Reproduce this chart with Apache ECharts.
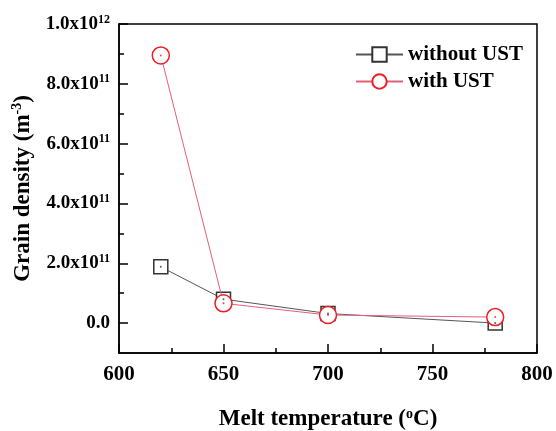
<!DOCTYPE html>
<html>
<head>
<meta charset="utf-8">
<script src="https://cdn.jsdelivr.net/npm/echarts@6/dist/echarts.min.js"></script>
<style>
  html, body { margin: 0; padding: 0; background: #fff; }
  #chart { width: 556px; height: 431px; }
</style>
</head>
<body>
<div id="chart"></div>
<script>
// melt temperature (C) and grain density (m^-3)
const temps = [620, 650, 700, 780];
const withoutUST = [1.88e11, 8.0e10, 3.2e10, 0];
const withUST = [8.95e11, 6.6e10, 2.7e10, 2.0e10];
const yMajor = [0, 2e11, 4e11, 6e11, 8e11, 1e12];
const yMinor = [1e11, 3e11, 5e11, 7e11, 9e11];

const FONT = "Liberation Serif";

function sciLabel(v) {
  if (v === 0) return "{a|0.0}";
  const exp = Math.floor(Math.log10(v) + 1e-9);
  const mant = (v / Math.pow(10, exp)).toFixed(1);
  return `{a|${mant}x10}{s|${exp}}`;
}

const rich = {
  a: { fontFamily: FONT, fontWeight: "bold", fontSize: 19, color: "#000" },
  s: { fontFamily: FONT, fontWeight: "bold", fontSize: 12, color: "#000", padding: [0, 0, 9, 0] },
};

const pairs = (ys) => temps.map((t, i) => [t, ys[i]]);

const chart = echarts.init(document.getElementById("chart"));
chart.setOption({
  animation: false,
  grid: {
    left: 119, top: 24, right: 19, bottom: 78,
    outerBoundsMode: "none",
    show: true, borderColor: "#000", borderWidth: 1.5,
  },
  legend: {
    orient: "vertical",
    left: 350, top: 39,
    itemWidth: 47, itemHeight: 18, itemGap: 6,
    textStyle: { fontFamily: FONT, fontWeight: "bold", fontSize: 21, color: "#000" },
    data: ["without UST", "with UST"],
  },
  xAxis: {
    type: "value",
    min: 600, max: 800, interval: 50,
    name: "{a|Melt temperature (}{s|o}{a|C)}",
    nameLocation: "middle", nameGap: 54,
    nameTextStyle: {
      rich: {
        a: { fontFamily: FONT, fontWeight: "bold", fontSize: 23, color: "#000" },
        s: { fontFamily: FONT, fontWeight: "bold", fontSize: 14, color: "#000", padding: [0, 0, 11, 0] },
      },
    },
    axisLine: { onZero: false, lineStyle: { color: "#000", width: 1.5 } },
    axisTick: { inside: true, length: 9, lineStyle: { color: "#000", width: 1.5 } },
    minorTick: { show: true, splitNumber: 2, length: 5, lineStyle: { color: "#000", width: 1.5 } },
    axisLabel: { fontFamily: FONT, fontWeight: "bold", fontSize: 21, color: "#000", margin: 11 },
    splitLine: { show: false },
  },
  yAxis: [
    {
      type: "value",
      min: -1e11, max: 1e12,
      name: "{a|Grain density (m}{s|-3}{a|)}",
      nameLocation: "middle", nameGap: 76, nameRotate: 90,
      nameTextStyle: {
        rich: {
          a: { fontFamily: FONT, fontWeight: "bold", fontSize: 23, color: "#000" },
          s: { fontFamily: FONT, fontWeight: "bold", fontSize: 14, color: "#000", padding: [0, 0, 11, 0] },
        },
      },
      axisLine: { show: true, lineStyle: { color: "#000", width: 1.5 } },
      axisTick: { show: true, inside: true, length: 9, customValues: yMajor, lineStyle: { color: "#000", width: 1.5 } },
      axisLabel: { customValues: yMajor, formatter: sciLabel, rich: rich, margin: 9 },
      splitLine: { show: false },
    },
    {
      type: "value",
      position: "left",
      min: -1e11, max: 1e12,
      axisLine: { show: false },
      axisTick: { show: true, inside: true, length: 5, customValues: yMinor, lineStyle: { color: "#000", width: 1.5 } },
      axisLabel: { show: false },
      splitLine: { show: false },
    },
  ],
  series: [
    {
      name: "without UST",
      type: "line",
      data: pairs(withoutUST),
      symbol: "rect",
      symbolSize: 14,
      lineStyle: { color: "#555", width: 1 },
      itemStyle: { color: "#fff", borderColor: "#333", borderWidth: 1.5 },
      z: 2,
    },
    {
      name: "with UST",
      type: "line",
      data: pairs(withUST),
      symbol: "circle",
      symbolSize: 17,
      lineStyle: { color: "#e0607a", width: 1 },
      itemStyle: { color: "#fff", borderColor: "#ee1c25", borderWidth: 1.5 },
      z: 3,
    },
    {
      type: "scatter",
      data: pairs(withoutUST),
      symbolSize: 2,
      itemStyle: { color: "#333" },
      silent: true,
      z: 4,
    },
    {
      type: "scatter",
      data: pairs(withUST),
      symbolSize: 2,
      itemStyle: { color: "#ee1c25" },
      silent: true,
      z: 5,
    },
  ],
});
</script>
</body>
</html>
